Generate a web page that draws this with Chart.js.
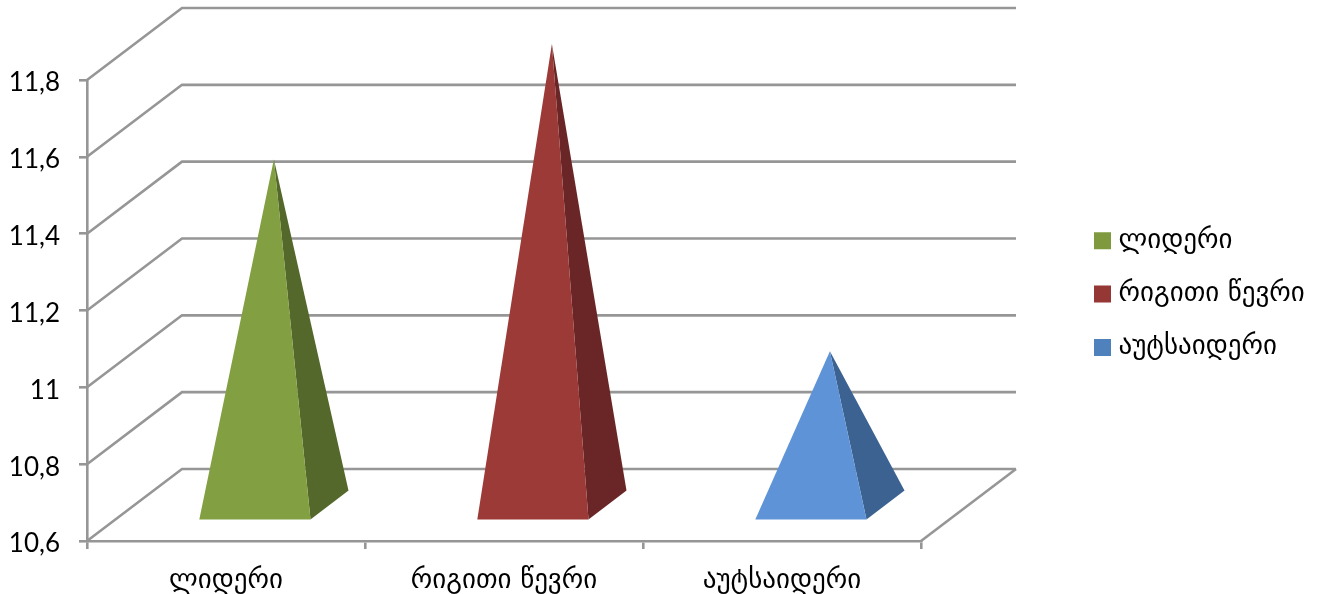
<!DOCTYPE html>
<html>
<head>
<meta charset="utf-8">
<style>html,body{margin:0;padding:0;background:#fff}canvas{display:block}</style>
<script src="https://cdn.jsdelivr.net/npm/chart.js@4"></script>
</head>
<body>
<canvas id="c" width="1317" height="594"></canvas>
<script>
const categories = ['ლიდერი', 'რიგითი წევრი', 'აუტსაიდერი'];
const values = [11.5, 11.8, 11.0];
const tickLabels = ['10,6', '10,8', '11', '11,2', '11,4', '11,6', '11,8'];
const legendColors = ['#7F9A3E', '#953735', '#4F81BD'];
const faceColors = ['#829F41', '#9B3A37', '#5F93D7'];
const sideColors = ['#53682A', '#6A2626', '#3B6291'];

const GRID = '#969696';
const DEPTH_X = 95, DEPTH_Y = 72;
const FONT_DIGITS = 'Lato, "DejaVu Sans", sans-serif';
const FONT_TEXT = '"DejaVu Sans", sans-serif';

const walls = {
  id: 'walls',
  beforeDatasetsDraw(chart) {
    const { ctx, chartArea: a, scales: { y } } = chart;
    ctx.save();
    ctx.strokeStyle = GRID;
    ctx.lineWidth = 2.6;
    ctx.lineJoin = 'miter';
    y.ticks.forEach(t => {
      const py = y.getPixelForValue(t.value);
      ctx.beginPath();
      ctx.moveTo(a.left, py);
      ctx.lineTo(a.left + DEPTH_X, py - DEPTH_Y);
      ctx.lineTo(a.right + DEPTH_X, py - DEPTH_Y);
      ctx.stroke();
    });
    ctx.beginPath();
    ctx.moveTo(a.right, a.bottom);
    ctx.lineTo(a.right + DEPTH_X, a.bottom - DEPTH_Y);
    ctx.stroke();
    ctx.restore();
  }
};

const pyramids = {
  id: 'pyramids',
  beforeDatasetDraw(chart, args) {
    const { ctx } = chart;
    const base = chart.scales.y.getPixelForValue(chart.scales.y.min);
    args.meta.data.forEach((bar, i) => {
      const cx = bar.x + DEPTH_X / 2 + 0.4;
      const half = bar.width / 2;
      const cy = base - DEPTH_Y / 2;
      const apex = [cx, bar.y - DEPTH_Y / 2];
      const fl = [cx - 19 - half, cy + 14.5];
      const fr = [cx - 19 + half, cy + 14.5];
      const br = [cx + 19 + half, cy - 14.5];
      const poly = (pts, col) => {
        ctx.beginPath();
        pts.forEach((p, k) => k ? ctx.lineTo(p[0], p[1]) : ctx.moveTo(p[0], p[1]));
        ctx.closePath();
        ctx.fillStyle = col;
        ctx.fill();
      };
      poly([apex, fr, br], sideColors[i]);
      poly([apex, fl, fr], faceColors[i]);
    });
    return false;
  }
};

const legendPlace = {
  id: 'legendPlace',
  afterLayout(chart) {
    const l = chart.legend;
    l.left = 1073.7; l.right = 1317; l.top = 201; l.bottom = 594;
    l.width = l.right - l.left; l.height = l.bottom - l.top;
  }
};

new Chart(document.getElementById('c'), {
  type: 'bar',
  data: {
    labels: categories,
    datasets: [{
      data: values,
      backgroundColor: legendColors,
      categoryPercentage: 1,
      barPercentage: 0.4
    }]
  },
  plugins: [walls, pyramids, legendPlace],
  options: {
    responsive: false,
    animation: false,
    devicePixelRatio: 1,
    layout: { padding: { left: 0, right: 396, top: 80, bottom: 0 } },
    plugins: {
      tooltip: { enabled: false },
      legend: {
        position: 'chartArea',
        align: 'start',
        labels: {
          usePointStyle: true,
          boxWidth: 5,
          boxHeight: 17,
          padding: 26.3,
          color: '#000',
          font: { family: FONT_TEXT, size: 27 },
          generateLabels: () => categories.map((c, i) => ({
            text: c, fillStyle: legendColors[i], strokeStyle: legendColors[i], lineWidth: 0, pointStyle: 'rect', index: i
          }))
        }
      }
    },
    scales: {
      x: {
        afterFit(s) { s.height = 53; },
        grid: { display: true, drawOnChartArea: false, drawTicks: true, tickLength: 8, color: GRID, lineWidth: 2.6 },
        border: { color: GRID, width: 2.6 },
        ticks: { color: '#000', padding: 16, maxRotation: 0, autoSkip: false, font: { family: FONT_TEXT, size: 27 } }
      },
      y: {
        min: 10.6,
        max: 11.8,
        afterFit(s) { s.width = 87; },
        afterBuildTicks(s) {
          s.ticks = tickLabels.map((_, i) => ({ value: 10.6 + i * 0.2 }));
        },
        grid: { display: true, drawOnChartArea: false, drawTicks: true, tickLength: 8, color: GRID, lineWidth: 2.6 },
        border: { color: GRID, width: 2.6 },
        ticks: {
          color: '#000',
          padding: 19,
          autoSkip: false,
          labelOffset: 3,
          font: { family: FONT_DIGITS, size: 26 },
          callback: (v, i) => tickLabels[i]
        }
      }
    }
  }
});
</script>
</body>
</html>
